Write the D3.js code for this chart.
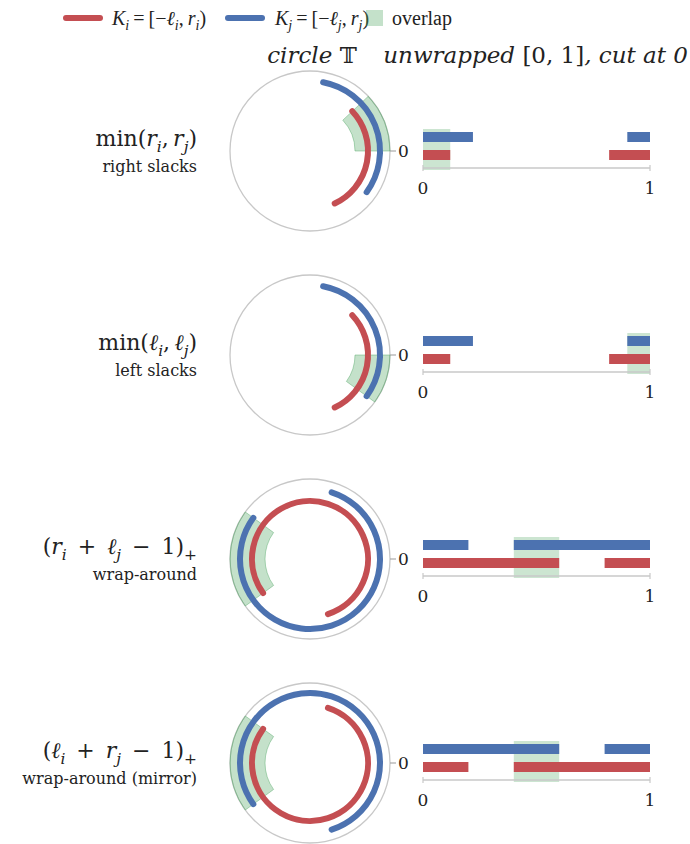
<!DOCTYPE html>
<html>
<head>
<meta charset="utf-8">
<script src="https://cdn.jsdelivr.net/npm/d3@7"></script>
<style>
  body { margin: 0; background: #fff; }
  text { font-family: "DejaVu Serif", "Liberation Serif", serif; fill: #222; }
  .legend text { font-family: "Liberation Serif", serif; }
</style>
</head>
<body>
<div id="chart"></div>
<script>
// slacks per row: K_i = [-li, ri), K_j = [-lj, rj)
let ri = [0.12, 0.12, 0.6, 0.2];
let li = [0.18, 0.18, 0.2, 0.6];
let rj = [0.22, 0.22, 0.2, 0.6];
let lj = [0.10, 0.10, 0.6, 0.2];
// overlap shown on [0,1]
let ovStart = [0, 0.9, 0.4, 0.4];
let ovEnd = [0.12, 1, 0.6, 0.6];
let subtitles = ["right slacks", "left slacks", "wrap-around", "wrap-around (mirror)"];
// formula pieces: [text, style] where style: r = roman, i = italic, s = subscript italic, p = subscript roman
let formulas = [
    [["min(", "r"], ["r", "i"], ["i", "s"], [",\u2009", "r"], ["r", "i"], ["j", "s"], [")", "r"]],
    [["min(", "r"], ["ℓ", "i"], ["i", "s"], [",\u2009", "r"], ["ℓ", "i"], ["j", "s"], [")", "r"]],
    [["(", "r"], ["r", "i"], ["i", "s"], ["\u2002+\u2002", "r"], ["ℓ", "i"], ["j", "s"], ["\u2002−\u20021)", "r"], ["+", "p"]],
    [["(", "r"], ["ℓ", "i"], ["i", "s"], ["\u2002+\u2002", "r"], ["r", "i"], ["j", "s"], ["\u2002−\u20021)", "r"], ["+", "p"]]
];
let legendLabels = [
    [["K", "i"], ["i", "s"], ["\u2009=\u2009[−", "r"], ["ℓ", "i"], ["i", "s"], [",\u2009", "r"], ["r", "i"], ["i", "s"], [")", "r"]],
    [["K", "i"], ["j", "s"], ["\u2009=\u2009[−", "r"], ["ℓ", "i"], ["j", "s"], [",\u2009", "r"], ["r", "i"], ["j", "s"], [")", "r"]]
];
let tickLabels = ["0", "1"];

let red = "#c44e52", blue = "#4c72b0", green = "#55a868";
let width = 690, height = 844;

let svg = d3.select("#chart").append("svg")
    .attr("width", width)
    .attr("height", height);

let rowY = d3.scaleLinear().domain([0, 3]).range([151, 763]);
let x = d3.scaleLinear().domain([0, 1]).range([423, 650]);
// d3.arc angle: clockwise from 12 o'clock; t runs counterclockwise from 3 o'clock
let ang = d3.scaleLinear().domain([0, 1]).range([Math.PI / 2, Math.PI / 2 - 2 * Math.PI]);
let cx = 310, R = 80, rRed = 58, rBlue = 70, rIn = 45;

function addMath(sel, parts, size) {
    let shift = 0;
    parts.forEach(function (p) {
        let sub = (p[1] === "s" || p[1] === "p");
        let want = sub ? size * 0.25 : 0;
        let t = sel.append("tspan").text(p[0])
            .attr("font-size", sub ? size * 0.7 : size)
            .attr("dy", want - shift);
        shift = want;
        if (p[1] === "i" || p[1] === "s") t.attr("font-style", "italic");
    });
}

function arcPath(r, t0, t1) {
    let p = d3.path();
    // screen angle = -2*pi*t, drawn anticlockwise on screen
    p.arc(0, 0, r, -2 * Math.PI * t0, -2 * Math.PI * t1, true);
    return p.toString();
}

// legend
let leg = svg.append("g").attr("class", "legend");
leg.append("line").attr("x1", 66).attr("x2", 100).attr("y1", 18).attr("y2", 18)
    .attr("stroke", red).attr("stroke-width", 6).attr("stroke-linecap", "round");
addMath(leg.append("text").attr("x", 112).attr("y", 25), legendLabels[0], 20);
leg.append("line").attr("x1", 228).attr("x2", 262).attr("y1", 18).attr("y2", 18)
    .attr("stroke", blue).attr("stroke-width", 6).attr("stroke-linecap", "round");
addMath(leg.append("text").attr("x", 275).attr("y", 25), legendLabels[1], 20);
leg.append("rect").attr("x", 366).attr("y", 10).attr("width", 17).attr("height", 16)
    .attr("fill", green).attr("fill-opacity", 0.35);
leg.append("text").attr("x", 392).attr("y", 25).attr("font-size", 20).text("overlap");

// headers
let h1 = svg.append("text").attr("x", 312).attr("y", 63).attr("text-anchor", "middle").attr("font-size", 23);
h1.append("tspan").attr("font-style", "italic").text("circle ");
h1.append("tspan").text("𝕋");
let h2 = svg.append("text").attr("x", 688).attr("y", 63).attr("text-anchor", "end").attr("font-size", 23);
h2.append("tspan").attr("font-style", "italic").text("unwrapped ");
h2.append("tspan").text("[0, 1]");
h2.append("tspan").attr("font-style", "italic").text(", cut at 0");

let rows = svg.selectAll(".row")
    .data(d3.range(4))
    .enter()
    .append("g")
    .attr("class", "row")
    .attr("transform", function (d) {
        return "translate(0," + rowY(d) + ")";
    });

// labels on the left
rows.each(function (d) {
    let g = d3.select(this);
    addMath(g.append("text").attr("x", 197).attr("y", -5).attr("text-anchor", "end"), formulas[d], 22);
    g.append("text").attr("x", 197).attr("y", 21).attr("text-anchor", "end")
        .attr("font-size", 16).text(subtitles[d]);
});

// circle panel
let circ = rows.append("g").attr("transform", "translate(" + cx + ",0)");
circ.append("circle").attr("r", R).attr("fill", "none").attr("stroke", "#c8c8c8").attr("stroke-width", 1.3);
circ.append("line").attr("x1", R).attr("x2", R + 6).attr("stroke", "#aaa").attr("stroke-width", 1.2);
circ.append("text").attr("x", R + 8).attr("y", 6).attr("font-size", 17).text("0");

let wedge = d3.arc().innerRadius(rIn).outerRadius(R);
circ.append("path")
    .attr("d", function (d) {
        return wedge({startAngle: ang(ovEnd[d]), endAngle: ang(ovStart[d])});
    })
    .attr("fill", green).attr("fill-opacity", 0.35)
    .attr("stroke", green).attr("stroke-opacity", 0.45).attr("stroke-width", 1);

circ.append("path")
    .attr("d", function (d) { return arcPath(rBlue, -lj[d], rj[d]); })
    .attr("fill", "none").attr("stroke", blue).attr("stroke-width", 6).attr("stroke-linecap", "round");
circ.append("path")
    .attr("d", function (d) { return arcPath(rRed, -li[d], ri[d]); })
    .attr("fill", "none").attr("stroke", red).attr("stroke-width", 6).attr("stroke-linecap", "round");

// unwrapped panel
rows.append("rect")
    .attr("x", function (d) { return x(ovStart[d]); })
    .attr("width", function (d) { return x(ovEnd[d]) - x(ovStart[d]); })
    .attr("y", -22).attr("height", 41)
    .attr("fill", green).attr("fill-opacity", 0.3);

function segments(l, r) {
    return [[0, r], [1 - l, 1]];
}
rows.selectAll(".bj")
    .data(function (d) { return segments(lj[d], rj[d]); })
    .enter().append("rect")
    .attr("x", function (s) { return x(s[0]); })
    .attr("width", function (s) { return x(s[1]) - x(s[0]); })
    .attr("y", -19).attr("height", 10).attr("fill", blue);
rows.selectAll(".bi")
    .data(function (d) { return segments(li[d], ri[d]); })
    .enter().append("rect")
    .attr("x", function (s) { return x(s[0]); })
    .attr("width", function (s) { return x(s[1]) - x(s[0]); })
    .attr("y", -1).attr("height", 10).attr("fill", red);

rows.append("line").attr("x1", x(0)).attr("x2", x(1)).attr("y1", 17).attr("y2", 17)
    .attr("stroke", "#c8c8c8").attr("stroke-width", 1.5);
rows.selectAll(".tk")
    .data(x.domain())
    .enter().append("line")
    .attr("x1", x).attr("x2", x).attr("y1", 14).attr("y2", 20)
    .attr("stroke", "#c8c8c8").attr("stroke-width", 1.2);
rows.selectAll(".tl")
    .data(x.domain())
    .enter().append("text")
    .attr("x", x).attr("y", 43).attr("text-anchor", "middle").attr("font-size", 17)
    .text(function (v, i) { return tickLabels[i]; });
</script>
</body>
</html>
